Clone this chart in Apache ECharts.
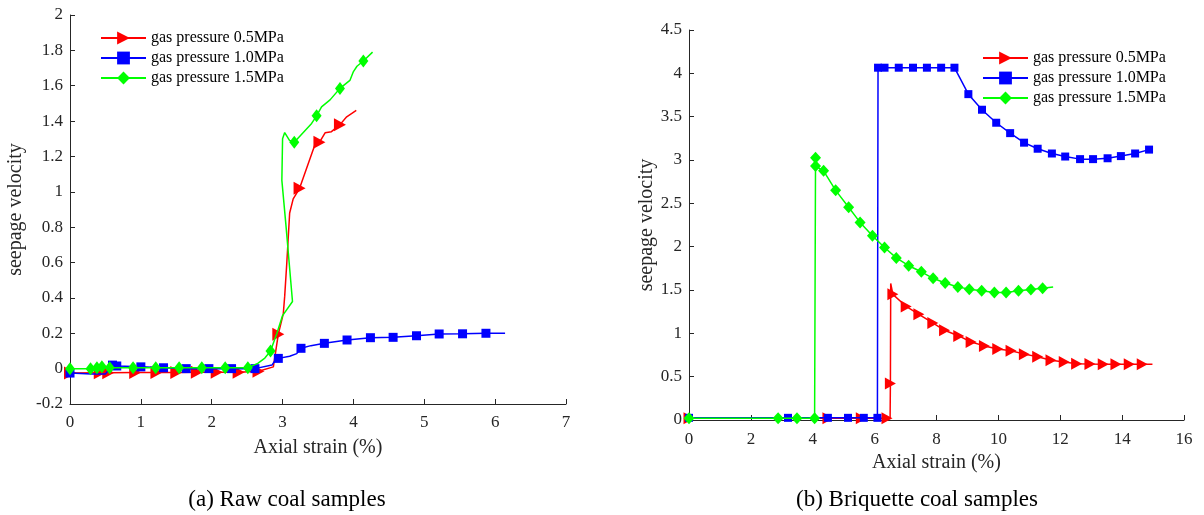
<!DOCTYPE html>
<html>
<head>
<meta charset="utf-8">
<script src="https://cdn.jsdelivr.net/npm/echarts@6/dist/echarts.min.js"></script>
<style>
  html, body { margin: 0; background: #fff; }
  #chart { width: 1204px; height: 515px; }
</style>
</head>
<body>
<div id="chart"></div>
<script>
// rows: [axial strain %, seepage velocity, marker shown (1) or not (0)]
const rawP05 = [
  [0, -0.025, 1], [0.42, -0.023, 1], [0.54, -0.023, 1], [0.92, -0.022, 1], [1.22, -0.022, 1],
  [1.5, -0.022, 1], [1.79, -0.02, 1], [2.07, -0.02, 1], [2.38, -0.02, 1], [2.66, -0.015, 1],
  [2.87, 0.01, 0], [2.94, 0.195, 1], [3.01, 0.31, 0], [3.03, 0.41, 0], [3.06, 0.6, 0],
  [3.1, 0.88, 0], [3.15, 0.96, 0], [3.24, 1.02, 1], [3.46, 1.27, 0], [3.52, 1.28, 1],
  [3.6, 1.334, 0], [3.69, 1.34, 0], [3.81, 1.38, 1], [3.905, 1.424, 0], [4.04, 1.46, 0]
];
const rawP10 = [
  [0, -0.025, 1], [0.3, -0.03, 0], [0.5, -0.03, 0], [0.6, 0.02, 1], [0.66, 0.015, 1],
  [1.0, 0.01, 1], [1.32, 0.005, 1], [1.64, 0.0, 1], [1.96, 0.0, 1], [2.28, 0.0, 1],
  [2.61, 0.0, 1], [2.85, 0.02, 0], [2.9, 0.05, 0], [2.94, 0.058, 1], [3.1, 0.07, 0],
  [3.2, 0.085, 0], [3.26, 0.115, 1], [3.4, 0.13, 0], [3.59, 0.143, 1], [3.91, 0.162, 1],
  [4.24, 0.175, 1], [4.56, 0.177, 1], [4.89, 0.186, 1], [5.21, 0.196, 1], [5.54, 0.197, 1],
  [5.87, 0.2, 1], [6.14, 0.2, 0]
];
const rawP15 = [
  [0, 0.0, 1], [0.29, 0.0, 1], [0.38, 0.005, 1], [0.45, 0.01, 1], [0.56, 0.005, 1],
  [0.89, 0.005, 1], [1.21, 0.005, 1], [1.54, 0.005, 1], [1.86, 0.005, 1], [2.19, 0.005, 1],
  [2.51, 0.005, 1], [2.65, 0.03, 0], [2.75, 0.06, 0], [2.83, 0.1, 1], [2.92, 0.2, 0],
  [3.0, 0.3, 0], [3.14, 0.38, 0], [3.05, 0.8, 0], [2.99, 1.065, 0], [3.0, 1.3, 0],
  [3.03, 1.335, 0], [3.1, 1.29, 0], [3.165, 1.28, 1], [3.41, 1.387, 0], [3.48, 1.43, 1],
  [3.55, 1.48, 0], [3.67, 1.52, 0], [3.81, 1.585, 1], [3.95, 1.63, 0], [4.0, 1.68, 0],
  [4.05, 1.71, 0], [4.14, 1.74, 1], [4.27, 1.79, 0]
];

const briP05 = [
  [0, 0.02, 1], [4.49, 0.02, 1], [5.57, 0.02, 1], [6.4, 0.02, 1], [6.5, 0.02, 0],
  [6.51, 0.42, 1], [6.52, 1.575, 0], [6.59, 1.45, 1], [7.02, 1.31, 1], [7.43, 1.22, 1],
  [7.88, 1.12, 1], [8.26, 1.035, 1], [8.72, 0.97, 1], [9.12, 0.9, 1], [9.55, 0.855, 1],
  [9.98, 0.82, 1], [10.41, 0.8, 1], [10.84, 0.76, 1], [11.27, 0.73, 1], [11.7, 0.69, 1],
  [12.13, 0.67, 1], [12.53, 0.65, 1], [12.96, 0.645, 1], [13.39, 0.643, 1], [13.8, 0.643, 1],
  [14.23, 0.643, 1], [14.65, 0.643, 1], [14.98, 0.643, 0]
];
const briP10 = [
  [0, 0.025, 1], [3.2, 0.025, 1], [4.49, 0.025, 1], [5.14, 0.025, 1], [5.65, 0.025, 1],
  [6.09, 0.025, 1], [6.11, 4.065, 1], [6.32, 4.065, 1], [6.78, 4.065, 1], [7.24, 4.065, 1],
  [7.69, 4.065, 1], [8.15, 4.065, 1], [8.58, 4.065, 1], [8.64, 4.06, 0], [8.75, 3.95, 0],
  [9.03, 3.76, 1], [9.47, 3.58, 1], [9.93, 3.43, 1], [10.38, 3.31, 1], [10.83, 3.2, 1],
  [11.27, 3.13, 1], [11.73, 3.075, 1], [12.16, 3.04, 1], [12.64, 3.01, 1], [13.06, 3.01, 1],
  [13.53, 3.02, 1], [13.96, 3.045, 1], [14.42, 3.075, 1], [14.87, 3.12, 1]
];
const briP15 = [
  [0, 0.02, 1], [2.88, 0.02, 1], [3.49, 0.02, 1], [4.06, 0.02, 1], [4.09, 3.025, 1],
  [4.09, 2.93, 1], [4.35, 2.875, 1], [4.74, 2.65, 1], [5.16, 2.455, 1], [5.53, 2.28, 1],
  [5.93, 2.125, 1], [6.32, 1.99, 1], [6.7, 1.87, 1], [7.1, 1.78, 1], [7.51, 1.71, 1],
  [7.89, 1.635, 1], [8.28, 1.58, 1], [8.69, 1.535, 1], [9.06, 1.51, 1], [9.46, 1.49, 1],
  [9.87, 1.47, 1], [10.25, 1.47, 1], [10.65, 1.49, 1], [11.05, 1.505, 1], [11.43, 1.52, 1],
  [11.77, 1.535, 0]
];

const seriesNames = ['gas pressure 0.5MPa', 'gas pressure 1.0MPa', 'gas pressure 1.5MPa'];
const subTitles = ['(a) Raw coal samples', '(b) Briquette coal samples'];
const rawXTicks = [0, 7, 1];     // min, max, interval
const rawYTicks = [-0.2, 2, 0.2];
const briXTicks = [0, 16, 2];
const briYTicks = [0, 4.5, 0.5];

const colors = ['#ff0000', '#0000ff', '#00ff00'];
const symbols = ['triangle', 'rect', 'diamond'];
const rotates = [-90, 0, 0];
const font = 'Liberation Serif';
const axisColor = '#262626';

function makeSeries(i, rows, gridIdx, sizes) {
  return {
    name: seriesNames[i],
    type: 'line',
    xAxisIndex: gridIdx,
    yAxisIndex: gridIdx,
    symbol: symbols[i],
    symbolRotate: rotates[i],
    symbolSize: sizes[i],
    showAllSymbol: true,
    z: 3 + i,
    lineStyle: { color: colors[i], width: 1.5 },
    itemStyle: { color: colors[i] },
    data: rows.map(r => r[2] ? [r[0], r[1]] : { value: [r[0], r[1]], symbol: 'none' })
  };
}

function xAxis(gridIdx, t, gap, margin) {
  return {
    type: 'value', gridIndex: gridIdx, min: t[0], max: t[1], interval: t[2],
    name: 'Axial strain (%)', nameLocation: 'middle', nameGap: gap,
    nameTextStyle: { fontFamily: font, fontSize: 20, color: axisColor },
    axisLine: { onZero: false, lineStyle: { color: axisColor, width: 1 } },
    axisTick: { inside: true, length: 5, lineStyle: { color: axisColor } },
    axisLabel: { fontFamily: font, fontSize: 17, color: axisColor, margin: margin },
    splitLine: { show: false }
  };
}

function yAxis(gridIdx, t, gap) {
  return {
    type: 'value', gridIndex: gridIdx, min: t[0], max: t[1], interval: t[2],
    name: 'seepage velocity', nameLocation: 'middle', nameGap: gap,
    nameTextStyle: { fontFamily: font, fontSize: 20, color: axisColor },
    axisLine: { show: true, onZero: false, lineStyle: { color: axisColor, width: 1 } },
    axisTick: { show: true, inside: true, length: 5, lineStyle: { color: axisColor } },
    axisLabel: { fontFamily: font, fontSize: 17, color: axisColor, margin: 7 },
    splitLine: { show: false }
  };
}

const legendBase = {
  orient: 'vertical',
  data: seriesNames,
  padding: 0,
  itemWidth: 45,
  itemHeight: 16,
  itemGap: 4,
  selectedMode: false,
  textStyle: { fontFamily: font, fontSize: 16, color: '#000' }
};

const chart = echarts.init(document.getElementById('chart'));
chart.setOption({
  animation: false,
  backgroundColor: '#fff',
  grid: [
    { left: 70, top: 15, width: 496, height: 389 },
    { left: 689, top: 30, width: 495, height: 390 }
  ],
  legend: [
    Object.assign({ left: 100, top: 30 }, legendBase),
    Object.assign({ left: 982, top: 50 }, legendBase)
  ],
  xAxis: [xAxis(0, rawXTicks, 34, 10), xAxis(1, briXTicks, 32, 11)],
  yAxis: [yAxis(0, rawYTicks, 44), yAxis(1, briYTicks, 30)],
  graphic: [
    { type: 'text', x: 287, y: 500, style: { text: subTitles[0], fontFamily: font, fontSize: 23, fill: '#000', align: 'center', verticalAlign: 'middle' } },
    { type: 'text', x: 917, y: 500, style: { text: subTitles[1], fontFamily: font, fontSize: 23, fill: '#000', align: 'center', verticalAlign: 'middle' } }
  ],
  series: [
    makeSeries(0, rawP05, 0, [[13, 12], 9, [10, 13]]),
    makeSeries(1, rawP10, 0, [[13, 12], 9, [10, 13]]),
    makeSeries(2, rawP15, 0, [[13, 12], 9, [10, 13]]),
    makeSeries(0, briP05, 1, [[12, 11], 8, [11, 12]]),
    makeSeries(1, briP10, 1, [[12, 11], 8, [11, 12]]),
    makeSeries(2, briP15, 1, [[12, 11], 8, [11, 12]])
  ]
});
</script>
</body>
</html>
